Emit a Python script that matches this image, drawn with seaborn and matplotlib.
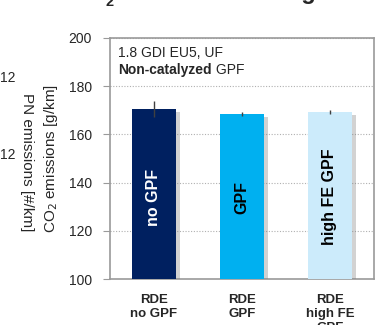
import matplotlib
matplotlib.use("Agg")
import matplotlib.pyplot as plt
import matplotlib.patheffects as pe
import seaborn as sns
import pandas as pd

# values
categories = ["RDE\nno GPF", "RDE\nGPF", "RDE\nhigh FE\nGPF"]
bar_labels = ["no GPF", "GPF", "high FE GPF"]
co2 = [170.5, 168.4, 169.2]
co2_err = [3.3, 0.7, 0.9]
colors = ["#002060", "#00B0F0", "#CCEBFB"]
label_colors = ["white", "black", "black"]

sns.set_style("white")
plt.rcParams["font.family"] = ["Liberation Sans", "DejaVu Sans"]

df = pd.DataFrame({"case": categories, "co2": co2})

fig = plt.figure(figsize=(3.75, 3.25), dpi=100)
ax = fig.add_axes([0.2933, 0.1415, 0.704, 0.7416])

sns.barplot(data=df, x="case", y="co2", hue="case", palette=colors,
            saturation=1, width=0.5, legend=False, ax=ax, zorder=3)
shadow = [pe.SimplePatchShadow(offset=(3, -2), shadow_rgbFace="#808080", alpha=0.35),
          pe.Normal()]
for p in ax.patches:
    p.set_path_effects(shadow)
    p.set_edgecolor("none")

ax.errorbar(range(len(co2)), co2, yerr=co2_err, fmt="none",
            ecolor="#404040", elinewidth=1, capsize=0, zorder=4)

for i, (lab, c) in enumerate(zip(bar_labels, label_colors)):
    ax.text(i, 134, lab, rotation=90, ha="center", va="center",
            color=c, fontsize=11.5, fontweight="bold", zorder=5)

ax.set_xlim(-0.5, 2.5)
ax.set_ylim(100, 200)
ax.set_yticks([100, 120, 140, 160, 180, 200])
ax.yaxis.grid(True, linestyle=(0, (1, 1.5)), color="#b0b0b0", linewidth=0.8, zorder=0)
ax.set_axisbelow(True)
for s in ax.spines.values():
    s.set_color("#9a9a9a")
    s.set_linewidth(1.2)
ax.tick_params(axis="y", left=True, length=5, color="#9a9a9a", labelsize=10, pad=8)
ax.tick_params(axis="x", bottom=False, labelsize=9.5, pad=7)
for t in ax.get_xticklabels():
    t.set_fontweight("bold")
    t.set_linespacing(1.25)
ax.set_xlabel("")
ax.set_ylabel("CO$_2$ emissions [g/km]", fontsize=11, labelpad=6)

ax.text(0.03, 0.965, "1.8 GDI EU5, UF", transform=ax.transAxes,
        fontsize=10, va="top", ha="left")
t2 = ax.text(0.03, 0.895, "Non-catalyzed", transform=ax.transAxes,
             fontsize=10, fontweight="bold", va="top", ha="left")
ax.annotate(" GPF", xy=(1, 0), xycoords=t2, va="bottom", ha="left", fontsize=10)

# secondary (PN) axis remnants at the left edge
fig.text(27 / 375, 0.5, "PN emissions [#/km]", rotation=270, ha="center",
         va="center", fontsize=11)
fig.text(0.0, 1 - 78 / 325, "12", fontsize=10, ha="left", va="center")
fig.text(0.0, 1 - 155 / 325, "12", fontsize=10, ha="left", va="center")

# title, mostly cut off at the top edge
fig.text(69 / 375, 1 + 1.5 / 325, "CO", fontsize=17, fontweight="bold",
         ha="left", va="baseline")
fig.text(105 / 375, 1 - 6 / 325, "2", fontsize=10.5, fontweight="bold",
         ha="left", va="baseline")
fig.text(113 / 375, 1 + 1.5 / 325, " emissions during RDE", fontsize=17,
         fontweight="bold", ha="left", va="baseline")

fig.savefig("out.png", dpi=100)
